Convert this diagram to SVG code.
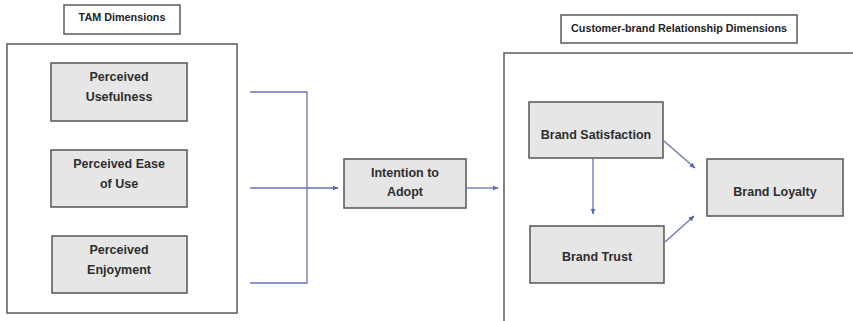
<svg xmlns="http://www.w3.org/2000/svg" width="853" height="321" viewBox="0 0 853 321">
  <style>
    .frame { fill: #ffffff; stroke: #5a5a5a; stroke-width: 1.5; }
    .node { fill: #e6e6e6; stroke: #555555; stroke-width: 1.5; }
    .label { font-family: "Liberation Sans", Arial, sans-serif; font-weight: bold; font-size: 12.5px; fill: #2e2e2e; text-anchor: middle; }
    .head { font-family: "Liberation Sans", Arial, sans-serif; font-weight: bold; font-size: 10.8px; fill: #222222; text-anchor: middle; }
    .wire { fill: none; stroke: #6673b8; stroke-width: 1.3; }
  </style>
  <defs>
    <marker id="arrow" viewBox="0 0 10 10" refX="9" refY="5" markerWidth="6" markerHeight="6" orient="auto" markerUnits="userSpaceOnUse">
      <path d="M0,1 L10,5 L0,9 z" fill="#5565b0"/>
    </marker>
  </defs>
  <rect width="853" height="321" fill="#ffffff"/>

  <!-- TAM group -->
  <g id="tam-title">
    <rect class="frame" x="64" y="5" width="116" height="29"/>
    <text class="head" x="122" y="21">TAM Dimensions</text>
  </g>
  <g id="tam-frame">
    <rect class="frame" x="7" y="44" width="230" height="269"/>
  </g>
  <g id="perceived-usefulness">
    <rect class="node" x="51" y="63" width="136" height="58"/>
    <text class="label" x="119" y="81">Perceived</text>
    <text class="label" x="119" y="101">Usefulness</text>
  </g>
  <g id="perceived-ease">
    <rect class="node" x="51" y="150" width="136" height="57"/>
    <text class="label" x="119" y="168">Perceived Ease</text>
    <text class="label" x="119" y="188">of Use</text>
  </g>
  <g id="perceived-enjoyment">
    <rect class="node" x="52" y="236" width="135" height="57"/>
    <text class="label" x="119" y="254">Perceived</text>
    <text class="label" x="119" y="274">Enjoyment</text>
  </g>

  <!-- Intention -->
  <g id="intention">
    <rect class="node" x="344" y="159" width="122" height="49"/>
    <text class="label" x="405" y="177">Intention to</text>
    <text class="label" x="405" y="196">Adopt</text>
  </g>

  <!-- Customer-brand relationship group -->
  <g id="cbr-title">
    <rect class="frame" x="561" y="15" width="236" height="28"/>
    <text class="head" x="679" y="32">Customer-brand Relationship Dimensions</text>
  </g>
  <g id="cbr-frame">
    <rect class="frame" x="504" y="53" width="360" height="280"/>
  </g>
  <g id="brand-satisfaction">
    <rect class="node" x="529" y="102" width="134" height="56"/>
    <text class="label" x="596" y="139">Brand Satisfaction</text>
  </g>
  <g id="brand-trust">
    <rect class="node" x="530" y="226" width="134" height="57"/>
    <text class="label" x="597" y="261">Brand Trust</text>
  </g>
  <g id="brand-loyalty">
    <rect class="node" x="707" y="159" width="136" height="57"/>
    <text class="label" x="775" y="196">Brand Loyalty</text>
  </g>

  <!-- Connectors -->
  <g id="connectors">
    <polyline class="wire" points="250,92 307,92 307,283 250,283"/>
    <line class="wire" x1="250" y1="188" x2="338" y2="188" marker-end="url(#arrow)"/>
    <line class="wire" x1="466" y1="188" x2="498" y2="188" marker-end="url(#arrow)"/>
    <line class="wire" x1="593" y1="158" x2="593" y2="214" marker-end="url(#arrow)"/>
    <line class="wire" x1="664" y1="141" x2="695" y2="168" marker-end="url(#arrow)"/>
    <line class="wire" x1="665" y1="242" x2="694" y2="216" marker-end="url(#arrow)"/>
  </g>
</svg>
